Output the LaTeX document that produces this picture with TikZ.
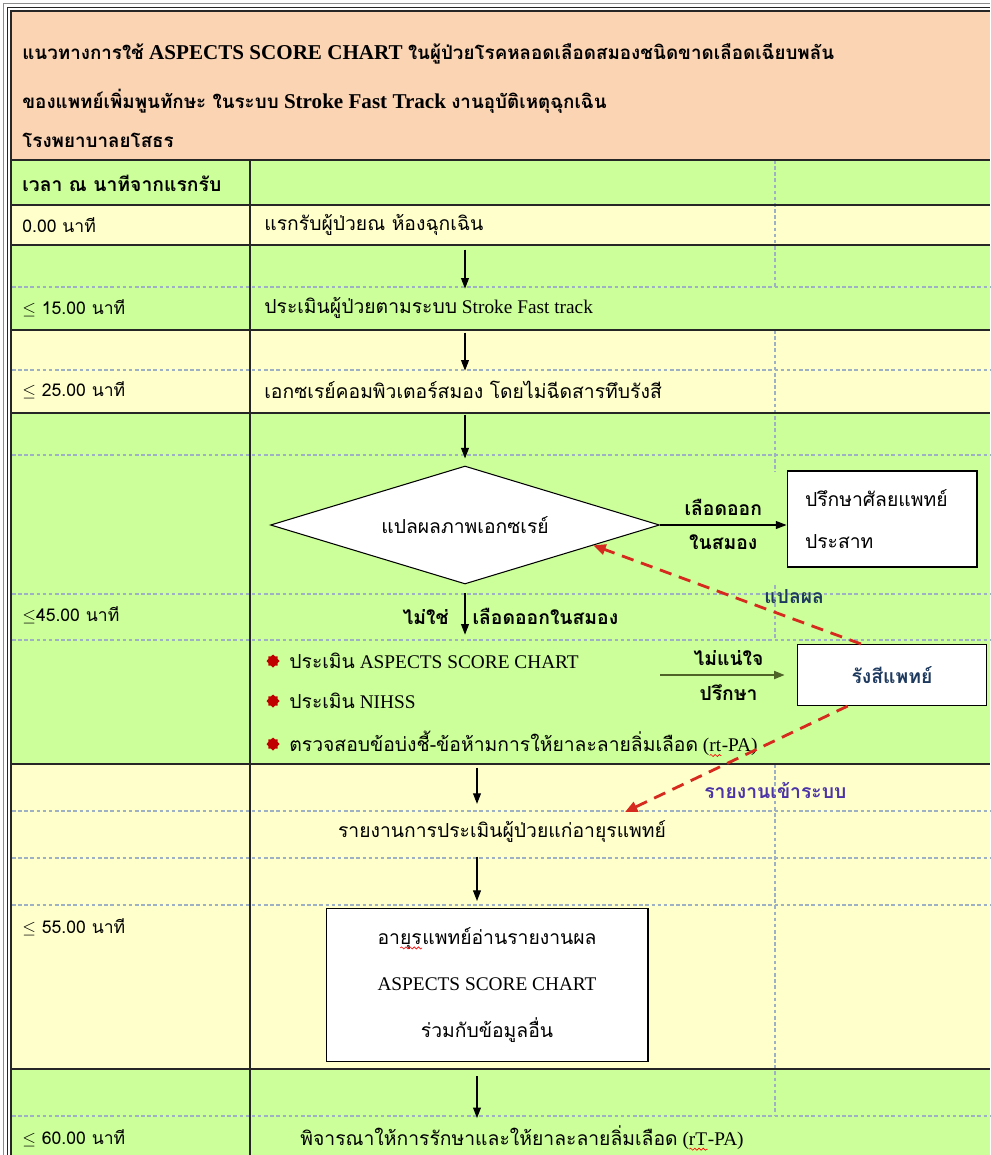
\documentclass[tikz,border=0pt]{standalone}
\usepackage{fontspec}
\setmainfont{Liberation Serif}
\newfontfamily\thaifont[Script=Thai]{Loma}
\newcommand{\tha}[1]{{\thaifont #1}}
\newcommand{\thb}[1]{{\thaifont\fontsize{10.7}{14}\selectfont #1}}
\usetikzlibrary{arrows,arrows.meta,positioning,shapes,decorations.pathmorphing}
\newcommand{\spellwave}[1]{\setbox0\hbox{#1}\rlap{\usebox0}\tikz[baseline=0pt]\draw[red, line width=0.35pt,
    decorate, decoration={snake, amplitude=0.6pt, segment length=2.4pt}] (0pt,-2.2pt) -- (\the\wd0,-2.2pt);}
\definecolor{head}{HTML}{FBD4B4}
\definecolor{rowg}{HTML}{CCFF99}
\definecolor{rowy}{HTML}{FFFFCC}
\definecolor{grid}{HTML}{9DB0C4}
\definecolor{arrowred}{HTML}{D62A1E}
\definecolor{bulletred}{HTML}{C00000}
\definecolor{arrowolive}{HTML}{4F6228}
\definecolor{lblnavy}{HTML}{1F3A5F}
\definecolor{lblpurple}{HTML}{4B33A8}
\tikzset{
    %Define standard arrow tip
    >={Triangle[length=6pt,width=4.5pt]},
    %Define style for texts in the table
    timelbl/.style={
        anchor=west,
        inner sep=0pt,
        minimum height=0.48cm,
        font=\thaifont\fontsize{10}{12}\selectfont
    },
    steptxt/.style={
        anchor=west,
        inner sep=0pt,
        minimum height=0.48cm,
        font=\fontsize{11}{13}\selectfont
    },
    headtxt/.style={
        anchor=west,
        inner sep=0pt,
        font=\bfseries\fontsize{12}{14}\selectfont
    },
    %Define style for boxes
    stepbox/.style={
        rectangle,
        draw=black, semithick,
        fill=white,
        inner sep=0pt
    },
    decision/.style={
        diamond,
        draw=black, semithick,
        fill=white,
        inner sep=0pt,
        shape aspect=3.3,
        minimum width=7.78cm,
        minimum height=2.36cm,
        font=\thaifont\fontsize{11}{13}\selectfont
    },
    bul/.style={
        star, star points=8, star point ratio=1.3,
        fill=bulletred, inner sep=0pt, minimum size=0.26cm
    },
    albl/.style={font=\thaifont\bfseries\fontsize{11}{13}\selectfont, inner sep=1pt},
    % Define arrow style
    pil/.style={
        ->,
        semithick,
        shorten <=7pt,
        shorten >=4pt},
    redpil/.style={
        -{Triangle[length=7pt,width=6pt]},
        draw=arrowred,
        line width=1.6pt,
        dash pattern=on 7pt off 4.5pt},
    gridline/.style={grid, line width=0.6pt, dash pattern=on 2pt off 1.5pt}
}
\begin{document}
\begin{tikzpicture}[x=0.02cm,y=-0.02cm]
\useasboundingbox (0,0) rectangle (990,1155);
%table
\fill[white] (0,0) rectangle (990,1155);
\fill[head] (12,12) rectangle (990,160);
\fill[rowg] (12,160) rectangle (990,205);
\fill[rowy] (12,205) rectangle (990,245);
\fill[rowg] (12,245) rectangle (990,330);
\fill[rowy] (12,330) rectangle (990,413);
\fill[rowg] (12,413) rectangle (990,764);
\fill[rowy] (12,764) rectangle (990,1069);
\fill[rowg] (12,1069) rectangle (990,1155);
\draw[gridline] (12,287) -- (990,287);
\draw[gridline] (12,370) -- (990,370);
\draw[gridline] (12,455) -- (990,455);
\draw[gridline] (12,594) -- (990,594);
\draw[gridline] (12,640) -- (990,640);
\draw[gridline] (12,811) -- (990,811);
\draw[gridline] (12,858) -- (990,858);
\draw[gridline] (12,905) -- (990,905);
\draw[gridline] (12,1116) -- (990,1116);
\draw[gridline] (775,160) -- (775,287);
\draw[gridline] (775,330) -- (775,472);
\draw[gridline] (775,585) -- (775,640);
\draw[gridline] (775,764) -- (775,1116);
\draw[black!85, line width=1.2pt] (12,160) -- (990,160);
\draw[black!85, semithick] (12,205) -- (990,205);
\draw[black!85, semithick] (12,245) -- (990,245);
\draw[black!85, semithick] (12,330) -- (990,330);
\draw[black!85, semithick] (12,413) -- (990,413);
\draw[black!85, semithick] (12,764) -- (990,764);
\draw[black!85, semithick] (12,1069) -- (990,1069);
\draw[black!85, semithick] (250,160) -- (250,1155);
\draw[black!45, semithick] (3.5,1155) -- (3.5,3.5) -- (990,3.5);
\draw[black!85, semithick] (7.5,1155) -- (7.5,7.5) -- (990,7.5);
\draw[black!85, semithick] (11,1155) -- (11,11) -- (990,11);
%nodes
\node[headtxt] (30) at (22,54) {\thb{แนวทางการใช้} ASPECTS SCORE CHART \thb{ในผู้ป่วยโรคหลอดเลือดสมองชนิดขาดเลือดเฉียบพลัน}};
\node[headtxt] (31) at (22,101) {\thb{ของแพทย์เพิ่มพูนทักษะ ในระบบ} Stroke Fast Track \thb{งานอุบัติเหตุฉุกเฉิน}};
\node[headtxt] (32) at (22,140) {\thb{โรงพยาบาลยโสธร}};
\node[timelbl, font=\thaifont\bfseries\fontsize{11}{13}\selectfont] (20) at (22,183) {เวลา ณ นาทีจากแรกรับ};
\node[timelbl] (21) at (22,225) {0.00 นาที};
\node[timelbl] (22) at (22,308) {$\leq$ 15.00 นาที};
\node[timelbl] (23) at (22,390) {$\leq$ 25.00 นาที};
\node[timelbl] (24) at (22,615) {$\leq$45.00 นาที};
\node[timelbl] (25) at (22,927) {$\leq$ 55.00 นาที};
\node[timelbl] (26) at (22,1138) {$\leq$ 60.00 นาที};
\node[steptxt] (1) at (264,225) {\tha{แรกรับผู้ป่วยณ ห้องฉุกเฉิน}};
\node[steptxt] (2) at (264,308) {\tha{ประเมินผู้ป่วยตามระบบ} Stroke Fast track};
\node[steptxt] (3) at (264,390) {\tha{เอกซเรย์คอมพิวเตอร์สมอง โดยไม่ฉีดสารทึบรังสี}};
\node[decision] (4) at (465,525) {แปลผลภาพเอกซเรย์};
\node[stepbox, minimum width=3.8cm, minimum height=1.92cm, inner xsep=0.36cm, text width=3.08cm,
      align=left, font=\thaifont\fontsize{11}{24}\selectfont] (5) at (882,519) {ปรึกษาศัลยแพทย์\\ประสาท};
\node[stepbox, minimum width=3.78cm, minimum height=1.22cm, text=lblnavy,
      font=\thaifont\bfseries\fontsize{11}{13}\selectfont] (6) at (892,675) {รังสีแพทย์};
\node[bul] (40) at (273,661) {};
\node[bul] (41) at (273,701) {};
\node[bul] (42) at (273,744) {};
\node[steptxt] (7) at (289,661) {\tha{ประเมิน} ASPECTS SCORE CHART};
\node[steptxt] (8) at (289,701) {\tha{ประเมิน} NIHSS};
\node[steptxt] (9) at (289,744) {\tha{ตรวจสอบข้อบ่งชี้-ข้อห้ามการให้ยาละลายลิ่มเลือด} (\spellwave{rt}-PA)};
\node[steptxt, anchor=center] (10) at (502,832) {\tha{รายงานการประเมินผู้ป่วยแก่อายุรแพทย์}};
\node[stepbox, minimum width=6.44cm, minimum height=3.06cm, align=center,
      font=\fontsize{11}{26.7}\selectfont] (11) at (487,985) {\tha{อา\spellwave{ยุร}แพทย์อ่านรายงานผล}\\ASPECTS SCORE CHART\\\tha{ร่วมกับข้อมูลอื่น}};
\node[steptxt, anchor=center] (12) at (522,1138) {\tha{พิจารณาให้การรักษาและให้ยาละลายลิ่มเลือด} (\spellwave{rT}-PA)};
\coordinate (m) at (477,0);
\coordinate (13) at (625,812);
%connectors
\draw[pil] (1.south -| 4.north) -- (2.north -| 4.north);
\draw[pil] (2.south -| 4.north) -- (3.north -| 4.north);
\draw[pil] (3.south -| 4.north) -- (4.north);
\draw[pil, shorten <=5pt, shorten >=8pt] (4.south) -- (7.north -| 4.south)
    node[albl, midway, left=8pt] {ไม่ใช่}
    node[albl, midway, right=3pt] {เลือดออกในสมอง};
\draw[->, semithick] (4.east) -- (4.east -| 5.west)
    node[albl, midway, above=4pt] {เลือดออก}
    node[albl, midway, below=4pt] {ในสมอง};
\draw[->, draw=arrowolive, line width=1.1pt, shorten >=7pt] (6.west -| 4.east) -- (6.west)
    node[albl, midway, above=4pt] {ไม่แน่ใจ}
    node[albl, midway, below=4pt] {ปรึกษา};
\draw[redpil] (6.135) -- (4.-9)
    node[albl, pos=0.25, above=7pt, text=lblnavy] {แปลผล};
\draw[redpil] (6.215) -- (13)
    node[albl, pos=0.8, right=18pt, text=lblpurple] {รายงานเข้าระบบ};
\draw[pil, shorten <=6pt, shorten >=9pt] (9.south -| m) -- (10.north -| m);
\draw[pil] (10.south -| m) -- (11.north -| m);
\draw[pil, shorten <=8pt] (11.south -| m) -- (12.north -| m);
\end{tikzpicture}
\end{document}
